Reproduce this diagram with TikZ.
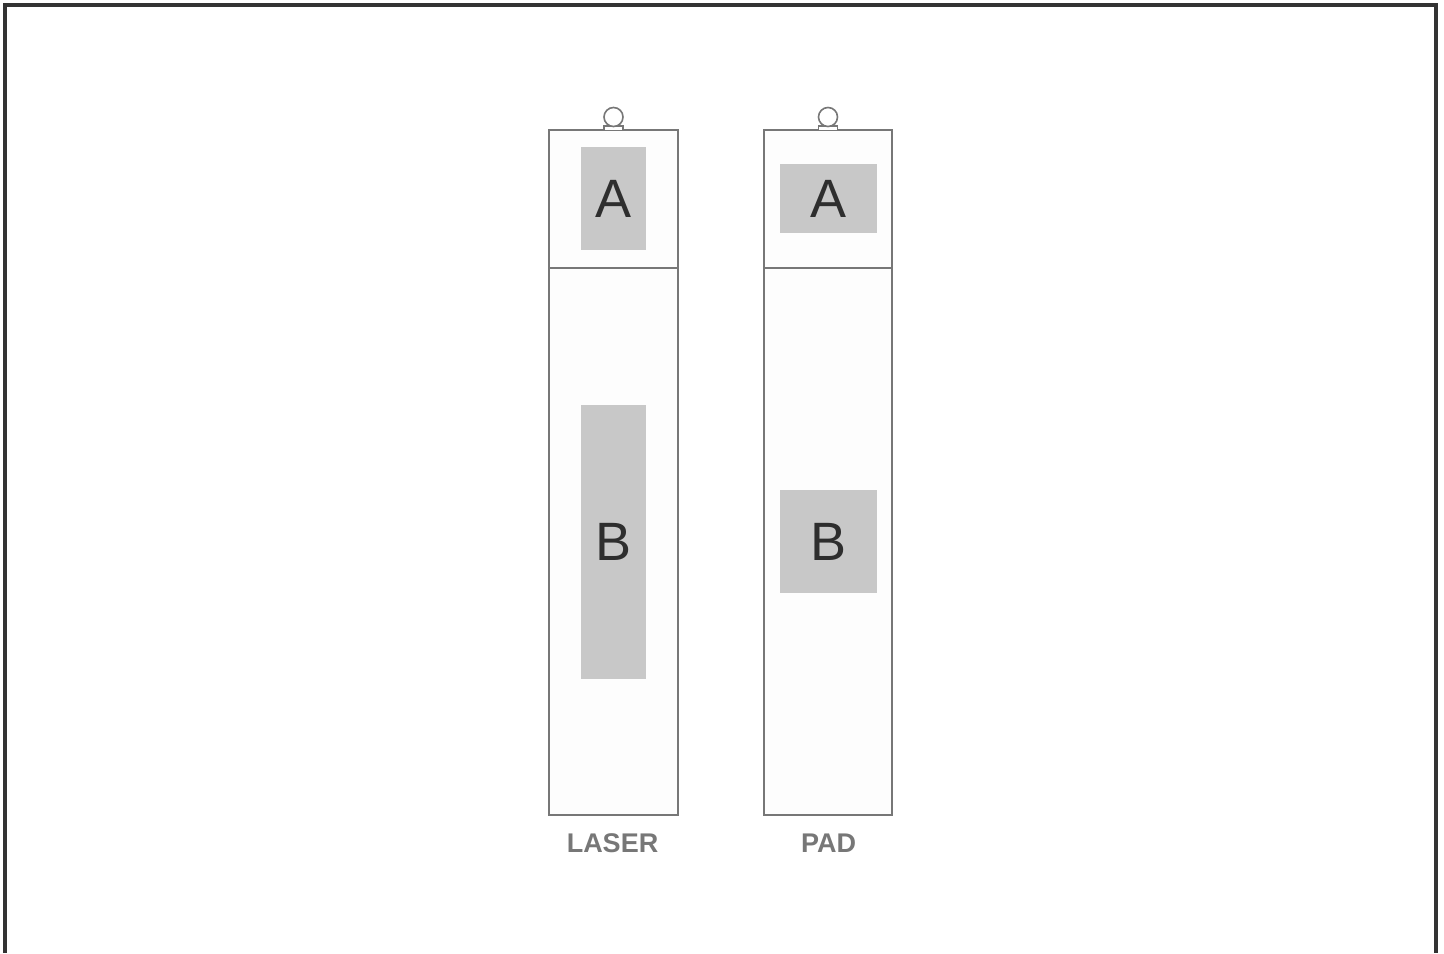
\documentclass[tikz,border=0pt]{standalone}
\usepackage{fontspec}
\setmainfont{Liberation Sans}
\definecolor{frame}{HTML}{333333}
\definecolor{strokegray}{HTML}{777777}
\definecolor{boxgray}{HTML}{C8C8C8}
\definecolor{stripfill}{HTML}{FDFDFD}
\definecolor{lettergray}{HTML}{2E2E2E}
\begin{document}
\begin{tikzpicture}[x=0.5pt,y=-0.5pt,
  strip/.style={draw=strokegray,fill=stripfill,line width=1pt},
  patch/.style={fill=boxgray,draw=none},
  letter/.style={text=lettergray,font=\fontsize{27}{28}\selectfont,inner sep=0pt},
  caption/.style={text=strokegray,font=\bfseries\fontsize{13.5}{15}\selectfont,inner sep=0pt},
  ring/.style={draw=strokegray,line width=0.8pt,fill=white}]
\useasboundingbox (0,0) rectangle (1444,953);
\fill[white] (0,0) rectangle (1444,953);
% frame (open at bottom)
\draw[frame,line width=2pt] (5,953) -- (5,5) -- (1436,5) -- (1436,953);

% LASER strip
\draw[strip] (549,130) rectangle (678,815);
\draw[strokegray,line width=1pt] (549,268) -- (678,268);
\node[patch,minimum width=32.5pt,minimum height=51.5pt,anchor=north west] (la) at (581,147) {};
\node[letter] at (la.center) {A};
\node[patch,minimum width=32.5pt,minimum height=137pt,anchor=north west] (lb) at (581,405) {};
\node[letter] at (lb.center) {B};
\draw[ring] (604,126) rectangle (623,130.5);
\draw[ring] (613.5,117) circle[radius=9.5];
\node[caption] (laser) at (612.5,843) {LASER};

% PAD strip
\draw[strip] (764,130) rectangle (892,815);
\draw[strokegray,line width=1pt] (764,268) -- (892,268);
\node[patch,minimum width=48.5pt,minimum height=34.5pt,anchor=north west] (pa) at (780,164) {};
\node[letter] at (pa.center) {A};
\node[patch,minimum width=48.5pt,minimum height=51.5pt,anchor=north west] (pb) at (780,490) {};
\node[letter] at (pb.center) {B};
\draw[ring] (818.5,126) rectangle (837.5,130.5);
\draw[ring] (828,117) circle[radius=9.5];
\node[caption] (pad) at (828.5,843) {PAD};
\end{tikzpicture}
\end{document}
